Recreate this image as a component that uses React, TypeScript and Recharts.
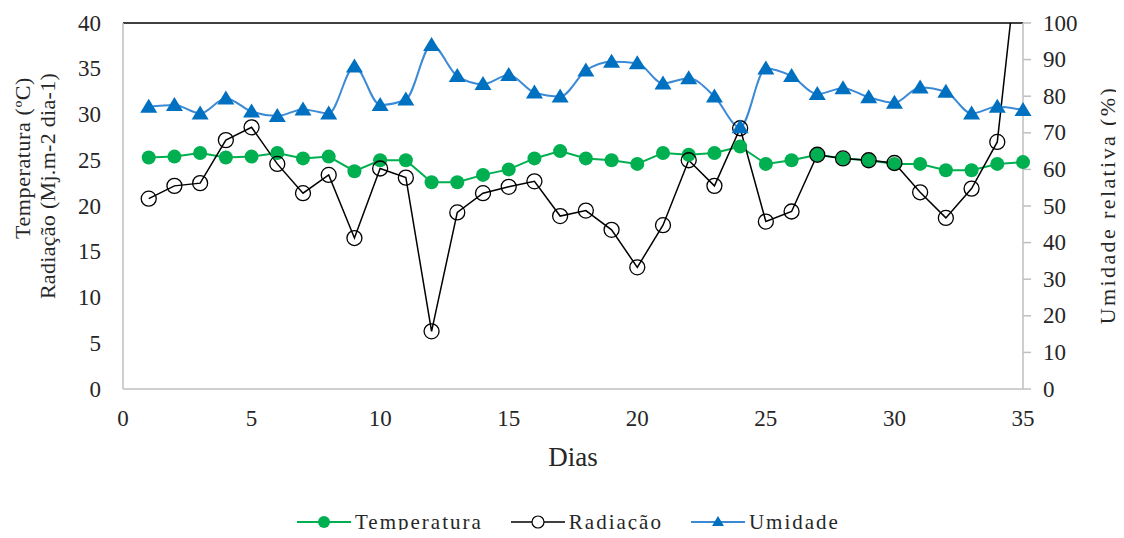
import React from 'react';
import { LineChart, Line, XAxis, YAxis, ReferenceLine } from 'recharts';

const days = [1, 2, 3, 4, 5, 6, 7, 8, 9, 10, 11, 12, 13, 14, 15, 16, 17, 18, 19, 20, 21, 22, 23, 24, 25, 26, 27, 28, 29, 30, 31, 32, 33, 34, 35];
const temperatura = [25.3, 25.4, 25.8, 25.3, 25.4, 25.8, 25.2, 25.4, 23.8, 25.0, 25.0, 22.6, 22.6, 23.4, 24.0, 25.2, 26.0, 25.2, 25.0, 24.6, 25.8, 25.6, 25.8, 26.5, 24.6, 25.0, 25.6, 25.2, 25.0, 24.6, 24.6, 23.9, 23.9, 24.6, 24.8];
const radiacao = [20.8, 22.2, 22.5, 27.2, 28.6, 24.6, 21.4, 23.4, 16.5, 24.1, 23.1, 6.3, 19.3, 21.4, 22.1, 22.7, 18.9, 19.5, 17.4, 13.3, 17.9, 25.0, 22.2, 28.5, 18.3, 19.4, 25.6, 25.2, 25.0, 24.7, 21.5, 18.7, 21.9, 27.0, 52.5];
const umidade = [77.1, 77.6, 75.3, 79.4, 75.8, 74.6, 76.4, 75.3, 88.1, 77.6, 79.1, 94.0, 85.5, 83.3, 85.8, 81.0, 79.9, 87.0, 89.4, 89.0, 83.5, 84.9, 79.9, 71.5, 87.6, 85.5, 80.6, 82.2, 79.7, 78.2, 82.4, 81.2, 75.3, 77.1, 76.2];

const xTicks = [0, 5, 10, 15, 20, 25, 30, 35];
const leftTicks = [0, 5, 10, 15, 20, 25, 30, 35, 40];
const rightTicks = [0, 10, 20, 30, 40, 50, 60, 70, 80, 90, 100];

const data = days.map((d, i) => ({
  dia: d,
  temperatura: temperatura[i],
  radiacao: radiacao[i],
  umidade: umidade[i],
}));

const FONT = '"Liberation Serif", "Times New Roman", Times, serif';
const GREEN = '#00B050';
const BLUE = '#0070C0';
const BLUE_LINE = '#3C8AD6';
const AXIS = '#BFBFBF';
const TXT = '#262626';
const textStyle = { fontFamily: FONT, fill: TXT };
const TICK_FS = 23;

const TriangleDot = (props: any) => {
  const { cx, cy, index } = props;
  if (cx == null || cy == null) return <g key={`t-${index}`} />;
  return (
    <path
      key={`t-${index}`}
      d={`M${cx},${cy - 8} L${cx + 8.5},${cy + 6} L${cx - 8.5},${cy + 6} Z`}
      fill={BLUE}
    />
  );
};

const XTick = (props: any) => {
  const { x, y, payload } = props;
  return (
    <text x={x} y={y + 29} textAnchor="middle" dominantBaseline="central" fontSize={TICK_FS} style={textStyle}>
      {payload.value}
    </text>
  );
};

const LeftTick = (props: any) => {
  const { x, y, payload } = props;
  return (
    <text x={x} y={y} textAnchor="end" dominantBaseline="central" fontSize={TICK_FS} style={textStyle}>
      {payload.value}
    </text>
  );
};

const RightTick = (props: any) => {
  const { x, y, payload } = props;
  return (
    <text x={x} y={y} textAnchor="start" dominantBaseline="central" fontSize={TICK_FS} style={textStyle}>
      {payload.value}
    </text>
  );
};

const LeftLabel = () => (
  <g>
    <text x={14} y={150} transform="rotate(-90, 14, 150)" textAnchor="middle" dominantBaseline="central" fontSize={22} style={{ ...textStyle, letterSpacing: 0.6 }}>
      Temperatura (ºC)
    </text>
    <text x={39} y={178} transform="rotate(-90, 39, 178)" textAnchor="middle" dominantBaseline="central" fontSize={22} style={{ ...textStyle, letterSpacing: 0.3 }}>
      Radiação (Mj.m-2 dia-1)
    </text>
  </g>
);

const RightLabel = () => (
  <text
    x={1099}
    y={197}
    transform="rotate(-90, 1099, 197)"
    textAnchor="middle"
    dominantBaseline="central"
    fontSize={22}
    style={{ ...textStyle, letterSpacing: 2.4 }}
  >
    Umidade relativa (%)
  </text>
);

const BottomLabel = () => (
  <text x={565} y={449} textAnchor="middle" dominantBaseline="central" fontSize={27} style={textStyle}>
    Dias
  </text>
);

function LegendIcon({ kind }: { kind: string }) {
  return (
    <svg width={54} height={18} style={{ display: 'block' }}>
      {kind === 'temp' && (
        <>
          <line x1={0} y1={9} x2={54} y2={9} stroke={GREEN} strokeWidth={2} />
          <circle cx={27} cy={9} r={6} fill={GREEN} />
        </>
      )}
      {kind === 'rad' && (
        <>
          <line x1={0} y1={9} x2={54} y2={9} stroke="#000" strokeWidth={1.5} />
          <circle cx={27} cy={9} r={6} fill="#fff" stroke="#000" strokeWidth={1.2} />
        </>
      )}
      {kind === 'umid' && (
        <>
          <line x1={0} y1={9} x2={54} y2={9} stroke={BLUE_LINE} strokeWidth={2} />
          <path d="M27,3 L33,13 L21,13 Z" fill={BLUE} />
        </>
      )}
    </svg>
  );
}

const legendItems = [
  { kind: 'temp', label: 'Temperatura' },
  { kind: 'rad', label: 'Radiação' },
  { kind: 'umid', label: 'Umidade' },
];

export default function App() {
  return (
    <div style={{ position: 'relative', width: 1116, height: 522, fontFamily: FONT }}>
      <LineChart width={1116} height={522} data={data} margin={{ top: 15, right: 8, bottom: 81, left: 0 }}>
        <XAxis
          dataKey="dia"
          type="number"
          domain={[0, 35]}
          ticks={xTicks}
          interval={0}
          height={60}
          axisLine={{ stroke: AXIS, strokeWidth: 1.5 }}
          tickLine={false}
          tickSize={0}
          tickMargin={0}
          tick={<XTick />}
          label={<BottomLabel />}
        />
        <YAxis
          yAxisId="left"
          domain={[0, 40]}
          ticks={leftTicks}
          interval={0}
          width={115}
          axisLine={{ stroke: AXIS, strokeWidth: 1.5 }}
          tickLine={false}
          tickSize={0}
          tickMargin={22}
          tick={<LeftTick />}
          label={<LeftLabel />}
        />
        <YAxis yAxisId="rad" hide domain={[0, 40]} allowDataOverflow />
        <YAxis
          yAxisId="right"
          orientation="right"
          domain={[0, 100]}
          ticks={rightTicks}
          interval={0}
          width={93}
          axisLine={{ stroke: AXIS, strokeWidth: 1.5 }}
          tickLine={{ stroke: AXIS, strokeWidth: 1.5 }}
          tickSize={8}
          tickMargin={12}
          tick={<RightTick />}
          label={<RightLabel />}
        />
        <ReferenceLine yAxisId="left" y={40} stroke="#000" strokeWidth={1.5} />
        <Line
          yAxisId="left"
          dataKey="temperatura"
          type="linear"
          stroke={GREEN}
          strokeWidth={2}
          dot={{ r: 7, fill: GREEN, stroke: GREEN, strokeWidth: 0 }}
          isAnimationActive={false}
        />
        <Line
          yAxisId="rad"
          dataKey="radiacao"
          type="linear"
          stroke="#000"
          strokeWidth={1.5}
          dot={{ r: 7.5, fill: 'none', stroke: '#000', strokeWidth: 1.3 }}
          isAnimationActive={false}
        />
        <Line
          yAxisId="right"
          dataKey="umidade"
          type="monotone"
          stroke={BLUE_LINE}
          strokeWidth={2}
          dot={<TriangleDot />}
          isAnimationActive={false}
        />
      </LineChart>
      <div
        style={{
          position: 'absolute',
          left: 289,
          top: 503,
          display: 'flex',
          alignItems: 'center',
          fontSize: 21,
          letterSpacing: 2.0,
          color: TXT,
          lineHeight: '22px',
        }}
      >
        {legendItems.map((it) => (
          <div key={it.kind} style={{ display: 'flex', alignItems: 'center', marginRight: 28 }}>
            <LegendIcon kind={it.kind} />
            <span style={{ marginLeft: 4 }}>{it.label}</span>
          </div>
        ))}
      </div>
    </div>
  );
}
